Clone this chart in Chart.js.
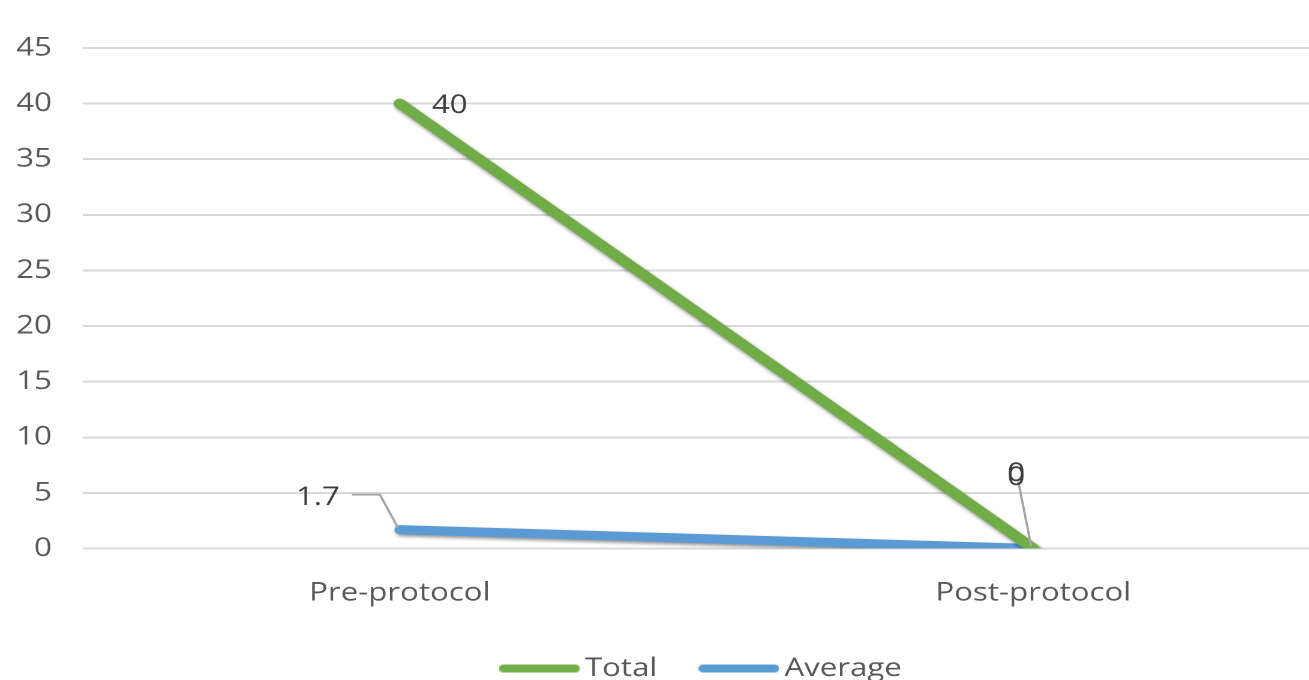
<!DOCTYPE html>
<html><head><meta charset="utf-8">
<script src="https://cdn.jsdelivr.net/npm/chart.js@4.4.1/dist/chart.umd.min.js"></script>
<style>
html,body{margin:0;padding:0;background:#fff;overflow:hidden;width:1309px;height:680px}
#wrap{position:absolute;left:0;top:0;width:1130px;height:700px;transform:scaleX(1.2);transform-origin:0 0}
</style></head><body>
<div id="wrap"><canvas id="c"></canvas></div>
<script>
const categories = ['Pre-protocol', 'Post-protocol'];
const seriesNames = ['Total', 'Average'];
const totalValues = [40, 0];
const averageValues = [1.7, 0];
const yMin = 0, yMax = 45, yStep = 5;

const FONT = "'Open Sans', sans-serif";
const colors = ['#70AD47', '#5B9BD5'];

function makeSwatch(color){
  const c = document.createElement('canvas');
  c.width = 67; c.height = 10;
  const x = c.getContext('2d');
  x.strokeStyle = color; x.lineWidth = 8; x.lineCap = 'round';
  x.beginPath(); x.moveTo(4,5); x.lineTo(63,5); x.stroke();
  return c;
}
const swatches = colors.map(makeSwatch);

const labelSpecs = [
  [ {dx: 26.7, dy: 2, align: 'left'}, {dx: -14.2, dy: -75, align: 'center'} ],
  [ {dx: -50, dy: -32, align: 'right', leader: [[-40,-35],[-16.6,-35],[-1.6,-2]]},
    {dx: -14.2, dy: -71, align: 'center', leader: [[-12.5,-67],[-1.7,-2]]} ]
];

const shadowPlugin = {
  id: 'shadow',
  beforeDatasetDraw(chart){
    const c = chart.ctx; c.save();
    c.shadowColor = 'rgba(0,0,0,0.45)'; c.shadowBlur = 7; c.shadowOffsetX = 2; c.shadowOffsetY = 4;
  },
  afterDatasetDraw(chart){ chart.ctx.restore(); }
};

const labelPlugin = {
  id: 'valueLabels',
  afterDatasetsDraw(chart){
    const ctx = chart.ctx;
    ctx.save();
    chart.data.datasets.forEach((ds, di) => {
      const meta = chart.getDatasetMeta(di);
      meta.data.forEach((pt, i) => {
        const s = labelSpecs[di][i];
        if (s.leader){
          ctx.strokeStyle = '#a6a6a6'; ctx.lineWidth = 2;
          ctx.beginPath();
          s.leader.forEach((p, k) => { const fx = k ? 'lineTo' : 'moveTo'; ctx[fx](pt.x + p[0], pt.y + p[1]); });
          ctx.stroke();
        }
        ctx.fillStyle = '#404040';
        ctx.font = '26px ' + FONT;
        ctx.textAlign = s.align; ctx.textBaseline = 'middle';
        ctx.fillText(String(ds.data[i]), pt.x + s.dx, pt.y + s.dy);
      });
    });
    ctx.restore();
  }
};

const legendShift = {
  id: 'legendShift',
  afterLayout(chart){ chart.legend.left += 46; }
};

new Chart(document.getElementById('c'), {
  type: 'line',
  data: {
    labels: categories,
    datasets: [
      {label: seriesNames[0], data: totalValues, borderColor: colors[0], backgroundColor: colors[0],
       borderWidth: 10, pointRadius: 0, borderCapStyle: 'round', borderJoinStyle: 'round', tension: 0},
      {label: seriesNames[1], data: averageValues, borderColor: colors[1], backgroundColor: colors[1],
       borderWidth: 9, pointRadius: 0, borderCapStyle: 'round', borderJoinStyle: 'round', tension: 0}
    ]
  },
  options: {
    responsive: true, maintainAspectRatio: false, animation: false, devicePixelRatio: 2,
    layout: {padding: {top: 48, right: 0, bottom: 8.5, left: 0}},
    plugins: {
      tooltip: {enabled: false},
      legend: {
        position: 'bottom',
        labels: {
          font: {family: FONT, size: 26}, color: '#595959',
          usePointStyle: true, pointStyleWidth: 50, padding: 43,
          generateLabels(chart){
            const items = Chart.defaults.plugins.legend.labels.generateLabels(chart);
            items.forEach((it, i) => { it.pointStyle = swatches[i]; });
            return items;
          }
        }
      }
    },
    scales: {
      x: {
        offset: true,
        grid: {display: false, drawTicks: false},
        border: {display: false},
        ticks: {font: {family: FONT, size: 26}, color: '#595959', padding: 29},
        afterFit(s){ s.height = 64; }
      },
      y: {
        min: yMin, max: yMax,
        grid: {color: '#d9d9d9', lineWidth: 2, drawTicks: false},
        border: {display: false},
        ticks: {stepSize: yStep, font: {family: FONT, size: 26}, color: '#595959', padding: 26},
        afterFit(s){ s.width = 69.2; }
      }
    }
  },
  plugins: [shadowPlugin, labelPlugin, legendShift]
});
</script>
</body></html>
